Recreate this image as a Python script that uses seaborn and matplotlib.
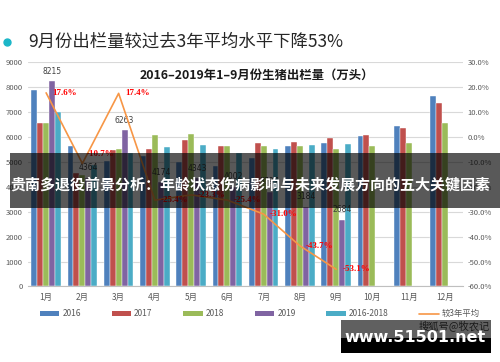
import numpy as np
import pandas as pd
import matplotlib.pyplot as plt
from matplotlib.patches import Rectangle, Patch
from matplotlib.lines import Line2D
import seaborn as sns

sns.set_style("white")
plt.rcParams['font.family'] = ['Noto Sans CJK SC', 'DejaVu Sans']

# data
months = ['1月', '2月', '3月', '4月', '5月', '6月', '7月', '8月', '9月', '10月', '11月', '12月']
series = ['2016', '2017', '2018', '2019', '2016-2018']
v2016 = [7860, 5630, 5040, 5230, 5000, 4830, 5150, 5610, 5740, 6030, 6430, 7640]
v2017 = [6560, 4560, 5460, 5500, 5870, 5630, 5750, 5780, 5940, 6070, 6370, 7370]
v2018 = [6540, 4470, 5505, 6070, 6110, 5610, 5610, 5630, 5500, 5610, 5740, 6570]
v2019 = [8215, 4364, 6263, 4174, 4343, 4002, 3797, 3184, 2684]
vavg = [6987, 4887, 5335, 5600, 5660, 5357, 5503, 5673, 5727]
pct = [17.6, -10.7, 17.4, -25.4, -23.3, -25.4, -31.0, -43.7, -53.1]
pct_labels = ['17.6%', '-10.7%', '17.4%', '-25.4%', '-23.3%', '-25.4%', '-31.0%', '-43.7%', '-53.1%']

colors = ['#4F81BD', '#C0504D', '#9BBB59', '#8064A2', '#4BACC6']
line_color = '#F79646'

rows = []
for s, vals in zip(series, [v2016, v2017, v2018, v2019, vavg]):
    for m, v in zip(months, vals):
        rows.append({'month': m, 'series': s, 'value': v})
df = pd.DataFrame(rows)

fig = plt.figure(figsize=(5, 3.62), dpi=100)
ax = fig.add_axes([0.056, 0.2086, 0.87, 0.6204])

sns.barplot(data=df, x='month', y='value', hue='series', order=months, hue_order=series,
            palette=colors, saturation=1, width=0.82, edgecolor='white', linewidth=0.3,
            legend=False, ax=ax)
ax.set_xlim(-0.5, 11.5)
ax.set_ylim(0, 9000)
ax.set_yticks(range(0, 9001, 1000))
ax.yaxis.grid(True, color='#d9d9d9', linewidth=0.8)
ax.set_axisbelow(True)
ax.set_xlabel('')
ax.set_ylabel('')
ax.tick_params(axis='y', labelsize=5.5, labelcolor='#595959', pad=4, length=0)
ax.tick_params(axis='x', labelsize=6, labelcolor='#595959', pad=5, length=0)
for sp in ['top', 'right', 'left']:
    ax.spines[sp].set_visible(False)
ax.spines['bottom'].set_color('#bfbfbf')

# 2019 value labels
for i, v in enumerate(v2019):
    ax.annotate(str(v), (i + 0.164, v), xytext=(0, 4), textcoords='offset points',
                ha='center', va='bottom', fontsize=5.5, color='#404040', family='DejaVu Sans')

ax2 = ax.twinx()
sns.lineplot(x=np.arange(len(pct)), y=pct, ax=ax2, color=line_color, linewidth=1.2)
ax2.set_ylim(-60, 30)
ax2.set_yticks(range(-60, 31, 10))
ax2.set_yticklabels([f'{t:.1f}%' for t in range(-60, 31, 10)])
ax2.tick_params(axis='y', labelsize=5.5, labelcolor='#595959', pad=3.5, length=0)
for sp in ax2.spines.values():
    sp.set_visible(False)
for i, (p, lab) in enumerate(zip(pct, pct_labels)):
    off = (3, 7) if i == 1 else (4.5, 0)
    ax2.annotate(lab, (i, p), xytext=off, textcoords='offset points', ha='left', va='center',
                 fontsize=6.5, color='#FF0000', weight='bold', family='Liberation Serif')

fig.text(0.514, 1 - 75 / 362, '2016–2019年1–9月份生猪出栏量（万头）', ha='center', va='center',
         fontsize=8.9, weight='bold', color='#1a1a1a')

# slide title with bullet
fig.add_artist(Line2D([7 / 500], [1 - 42 / 362], marker='o', markersize=5, color='#1BB6C8',
                      linestyle='none', transform=fig.transFigure))
fig.text(28 / 500, 1 - 42 / 362, '9月份出栏量较过去3年平均水平下降53%', ha='left', va='center',
         fontsize=12.5, color='#262626')

# legend
handles = [Patch(facecolor=c, edgecolor='none') for c in colors]
handles.append(Line2D([0], [0], color=line_color, linewidth=1.2))
labels = series + ['较3年平均']
leg = fig.legend(handles, labels, loc='lower left', bbox_to_anchor=(0.065, 0.1, 0.91, 0.04),
                 mode='expand', ncol=6, frameon=False, fontsize=6, handlelength=2.3,
                 handleheight=0.6, handletextpad=0.4)
for t in leg.get_texts():
    t.set_color('#595959')

# overlay band and caption
fig.add_artist(Rectangle((10 / 500, 1 - 208 / 362), 490 / 500, 55 / 362, transform=fig.transFigure,
                         facecolor='black', alpha=0.65, edgecolor='none', zorder=5))
fig.text(250 / 500, 1 - 185 / 362, '贵南多退役前景分析：年龄状态伤病影响与未来发展方向的五大关键因素',
         ha='center', va='center', fontsize=10.8, weight='bold', color='white', zorder=6)

# watermark boxes
fig.add_artist(Rectangle((341 / 500, 1 - 338 / 362), 150 / 500, 18 / 362, transform=fig.transFigure,
                         facecolor='#606060', edgecolor='none', zorder=5))
fig.add_artist(Rectangle((341 / 500, 1 - 353 / 362), 150 / 500, 15 / 362, transform=fig.transFigure,
                         facecolor='black', edgecolor='none', zorder=5))
fig.text(454 / 500, 1 - 326 / 362, '搜狐号@牧农记', ha='center', va='center', fontsize=7.4,
         color='#1a1a1a', zorder=6)
fig.text(415 / 500, 1 - 337 / 362, 'www.51501.net', ha='center', va='center', fontsize=11.5,
         weight='bold', color='white', family='DejaVu Sans', zorder=7)

fig.savefig('out.png', dpi=100)
